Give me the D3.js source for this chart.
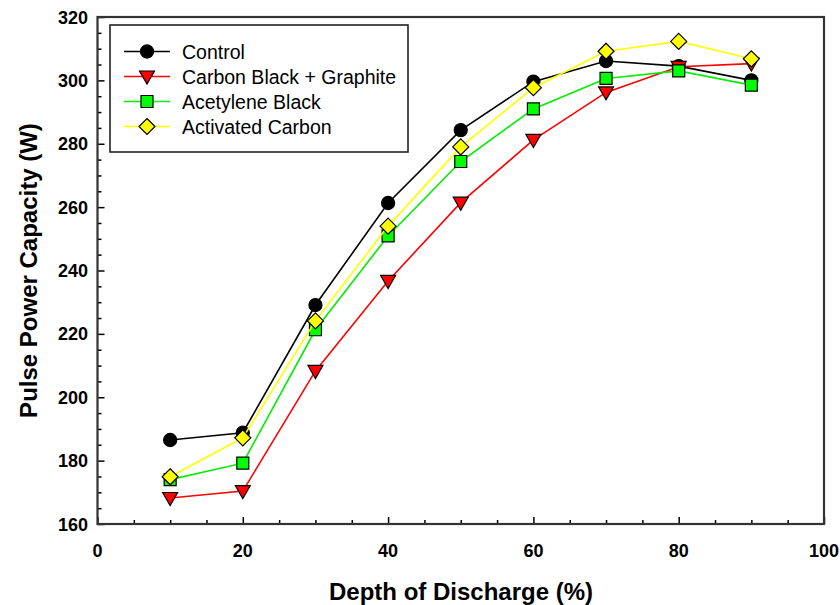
<!DOCTYPE html>
<html>
<head>
<meta charset="utf-8">
<script src="https://cdn.jsdelivr.net/npm/d3@7"></script>
<style>
  body { margin: 0; background: #fff; }
  svg { display: block; font-family: "Liberation Sans", Arial, sans-serif; }
</style>
</head>
<body>
<svg width="840" height="605"></svg>
<script>
// depth of discharge (%)
const depth = [10, 20, 30, 40, 50, 60, 70, 80, 90];

const control = [186.5, 188.8, 229.1, 261.3, 284.3, 299.6, 306.1, 304.5, 300.0];
const carbonBlackGraphite = [168.2, 170.4, 208.3, 236.7, 261.4, 281.2, 296.2, 304.3, 305.3];
const acetyleneBlack = [174.0, 179.2, 221.3, 250.9, 274.4, 291.0, 300.6, 303.0, 298.5];
const activatedCarbon = [174.9, 187.2, 224.1, 254.0, 279.0, 297.7, 309.2, 312.3, 306.8];

const seriesNames = ["Control", "Carbon Black + Graphite", "Acetylene Black", "Activated Carbon"];
const xTicks = [0, 20, 40, 60, 80, 100];
const yTicks = [160, 180, 200, 220, 240, 260, 280, 300, 320];

const series = [
  { name: seriesNames[0], values: control, color: "#000000", fill: "#000000", shape: d3.symbolCircle, size: 135 },
  { name: seriesNames[1], values: carbonBlackGraphite, color: "#ff0000", fill: "#ff0000", shape: "tri", size: 120 },
  { name: seriesNames[2], values: acetyleneBlack, color: "#00ee00", fill: "#00ff00", shape: d3.symbolSquare, size: 144 },
  { name: seriesNames[3], values: activatedCarbon, color: "#ffff00", fill: "#ffff00", shape: d3.symbolDiamond, size: 110 }
];

const svg = d3.select("svg");
const mLeft = 97.5, mRight = 824, mTop = 17, mBottom = 524;

const x = d3.scaleLinear().domain([0, 100]).range([mLeft, mRight]);
const y = d3.scaleLinear().domain([160, 320]).range([mBottom, mTop]);

// marker shapes
function markerPath(s) {
  if (s.shape === "tri") {
    const h = 13, w = 15;
    return `M${-w / 2},${-h / 2 + 1}L${w / 2},${-h / 2 + 1}L0,${h / 2 + 1}Z`;
  }
  if (s.shape === d3.symbolDiamond) {
    const r = 8;
    return `M0,${-r}L${r},0L0,${r}L${-r},0Z`;
  }
  return d3.symbol().type(s.shape).size(s.size)();
}

// axes (inward ticks)
const xAxis = d3.axisBottom(x).tickValues(d3.range(0, 101, 5)).tickSize(-4).tickFormat("");
const yAxis = d3.axisLeft(y).tickValues(d3.range(160, 321, 5)).tickSize(-4).tickFormat("");

const gx = svg.append("g").attr("transform", `translate(0,${mBottom})`).call(xAxis);
gx.select(".domain").remove();
gx.selectAll("line").attr("stroke", "#000").attr("stroke-width", 1.5)
  .attr("y2", d => d % 20 === 0 ? -7 : -4);

const gy = svg.append("g").attr("transform", `translate(${mLeft},0)`).call(yAxis);
gy.select(".domain").remove();
gy.selectAll("line").attr("stroke", "#000").attr("stroke-width", 1.5)
  .attr("x2", d => d % 20 === 0 ? 7 : 4);

// tick labels
svg.append("g").selectAll("text").data(xTicks).join("text")
  .attr("x", d => x(d)).attr("y", 557)
  .attr("text-anchor", "middle")
  .attr("font-size", 18).attr("font-weight", "bold")
  .text(d => d);

svg.append("g").selectAll("text").data(yTicks).join("text")
  .attr("x", 88).attr("y", d => y(d) + 6.5)
  .attr("text-anchor", "end")
  .attr("font-size", 18).attr("font-weight", "bold")
  .text(d => d);

// axis titles
svg.append("text")
  .attr("x", 461).attr("y", 600)
  .attr("text-anchor", "middle")
  .attr("font-size", 24).attr("font-weight", "bold")
  .text("Depth of Discharge (%)");

svg.append("text")
  .attr("transform", `translate(37,${(mTop + mBottom) / 2}) rotate(-90)`)
  .attr("text-anchor", "middle")
  .attr("font-size", 24).attr("font-weight", "bold")
  .text("Pulse Power Capacity (W)");

// series
const line = d3.line().x(d => x(d[0])).y(d => y(d[1]));

series.forEach(s => {
  const pts = depth.map((d, i) => [d, s.values[i]]);
  const g = svg.append("g");
  g.append("path").datum(pts)
    .attr("fill", "none").attr("stroke", s.color).attr("stroke-width", 1.6)
    .attr("d", line);
  g.selectAll("path.m").data(pts).join("path")
    .attr("class", "m")
    .attr("transform", d => `translate(${x(d[0])},${y(d[1])})`)
    .attr("d", markerPath(s))
    .attr("fill", s.fill).attr("stroke", "#000").attr("stroke-width", 1.2);
});

// frame
svg.append("rect")
  .attr("x", mLeft).attr("y", mTop)
  .attr("width", mRight - mLeft).attr("height", mBottom - mTop)
  .attr("fill", "none").attr("stroke", "#333").attr("stroke-width", 2.2);

// legend
const lg = svg.append("g");
lg.append("rect")
  .attr("x", 110).attr("y", 25).attr("width", 298).attr("height", 127)
  .attr("fill", "#fff").attr("stroke", "#222").attr("stroke-width", 1.6);

series.forEach((s, i) => {
  const ly = 51.5 + i * 25;
  lg.append("line").attr("x1", 124).attr("x2", 170).attr("y1", ly).attr("y2", ly)
    .attr("stroke", s.color).attr("stroke-width", 1.6);
  lg.append("path").attr("transform", `translate(147,${ly})`)
    .attr("d", markerPath(s))
    .attr("fill", s.fill).attr("stroke", "#000").attr("stroke-width", 1.2);
  lg.append("text").attr("x", 182).attr("y", ly + 7)
    .attr("font-size", 19.5)
    .text(s.name);
});
</script>
</body>
</html>
